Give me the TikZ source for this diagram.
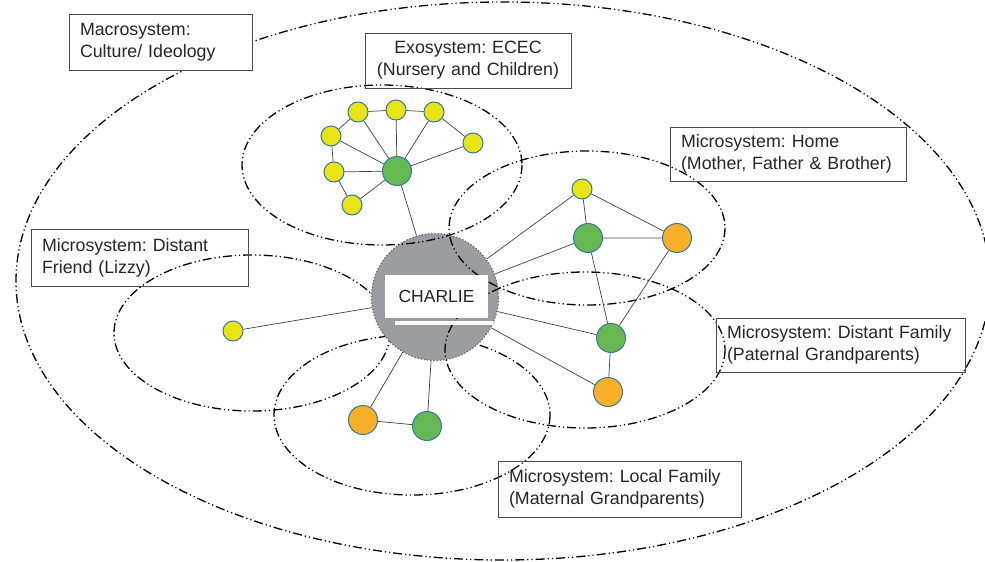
\documentclass[tikz,border=0pt]{standalone}
\usepackage{fontspec}
\setmainfont{Liberation Sans}
\frenchspacing
\definecolor{yel}{RGB}{232,228,22}
\definecolor{gre}{RGB}{102,184,82}
\definecolor{ora}{RGB}{247,176,40}
\definecolor{rim}{RGB}{52,122,160}
\definecolor{charliegray}{RGB}{156,157,161}
\begin{document}
\begin{tikzpicture}[x=1pt,y=-1pt,
  sys/.style={line width=1.3pt,dash pattern=on 9pt off 3pt on 1.2pt off 3pt on 1.2pt off 3pt},
  person/.style={circle,draw=rim,line width=1pt,inner sep=0pt},
  small/.style={person,fill=yel,minimum size=20pt},
  big/.style={person,minimum size=29pt},
  tie/.style={draw=black!75,line width=0.7pt},
  lbl/.style={draw=black!70,line width=0.8pt,font=\fontsize{17.8}{22}\selectfont,text=black!85,inner xsep=11pt,inner ysep=0pt,align=left}]
\useasboundingbox (0,0) rectangle (985,562);

\draw[sys] (503,281) ellipse [x radius=487,y radius=279];
\draw[sys] (252,333) ellipse [x radius=138,y radius=78];
\draw[sys] (412,415) ellipse [x radius=138,y radius=80];

\node[circle,fill=charliegray,draw=black!60,dotted,line width=1.2pt,minimum size=127pt] (charlie) at (435,297) {};

\draw[sys] (382,165) ellipse [x radius=140,y radius=80];
\draw[sys] (587,228) ellipse [x radius=138,y radius=77];
\draw[sys] (585,350) ellipse [x radius=140,y radius=78];

\node[fill=white,minimum width=103pt,minimum height=43pt,inner sep=0pt,font=\fontsize{17.5}{21}\selectfont,text=black!85] (name) at (436.5,296.5) {CHARLIE};
\fill[white] (395,321) rectangle (493,325);

% exosystem
\node[big,fill=gre] (ex) at (397,171) {};
\node[small] (e1) at (358,112) {};
\node[small] (e2) at (396,110) {};
\node[small] (e3) at (434,112) {};
\node[small] (e4) at (473,143) {};
\node[small] (e5) at (331,136) {};
\node[small] (e6) at (334,172) {};
\node[small] (e7) at (352,205) {};
\draw[tie] (e1) -- (e2) -- (e3) -- (e4);
\draw[tie] (e1) -- (e5) -- (e6) -- (e7);
\foreach \i in {1,...,7}
  \draw[tie] (ex) -- (e\i);
\draw[tie] (ex) -- (charlie);

% home
\node[small] (h1) at (582,189) {};
\node[big,fill=gre] (h2) at (588,238) {};
\node[big,fill=ora] (h3) at (677,238) {};
\draw[tie] (h1) -- (h2) -- (h3) -- (h1);
\draw[tie] (charlie) -- (h1);
\draw[tie] (charlie) -- (h2);

% distant family
\node[big,fill=gre] (d1) at (611,338) {};
\node[big,fill=ora] (d2) at (608,392) {};
\draw[tie] (d1) -- (d2);
\draw[tie] (h2) -- (d1) -- (h3);
\draw[tie] (charlie) -- (d1);
\draw[tie] (charlie) -- (d2);

% local family and friend
\node[big,fill=ora] (l1) at (363,420) {};
\node[big,fill=gre] (l2) at (427,426) {};
\node[small] (f1) at (233,331) {};
\draw[tie] (l1) -- (l2);
\draw[tie] (charlie) -- (l1);
\draw[tie] (charlie) -- (l2);
\draw[tie] (charlie) -- (f1);

% labels
\node[lbl,fill=white,text width=161pt,minimum height=56pt] (macro) at (160.5,42) {Macrosystem:\\Culture/ Ideology};
\node[lbl,align=center,text width=184pt,minimum height=55pt] (exo) at (468,60.5) {Exosystem: ECEC\\(Nursery and Children)};
\node[lbl,text width=214pt,minimum height=54pt] (home) at (788,154) {Microsystem: Home\\(Mother, Father \& Brother)};
\node[lbl,text width=227pt,minimum height=54pt] (paternal) at (840.5,345) {Microsystem: Distant Family\\(Paternal Grandparents)};
\node[lbl,text width=221pt,minimum height=56pt] (maternal) at (619.5,489) {Microsystem: Local Family\\(Maternal Grandparents)};
\node[lbl,text width=195pt,minimum height=57pt] (friend) at (139.5,257.5) {Microsystem: Distant\\Friend (Lizzy)};
\end{tikzpicture}
\end{document}
